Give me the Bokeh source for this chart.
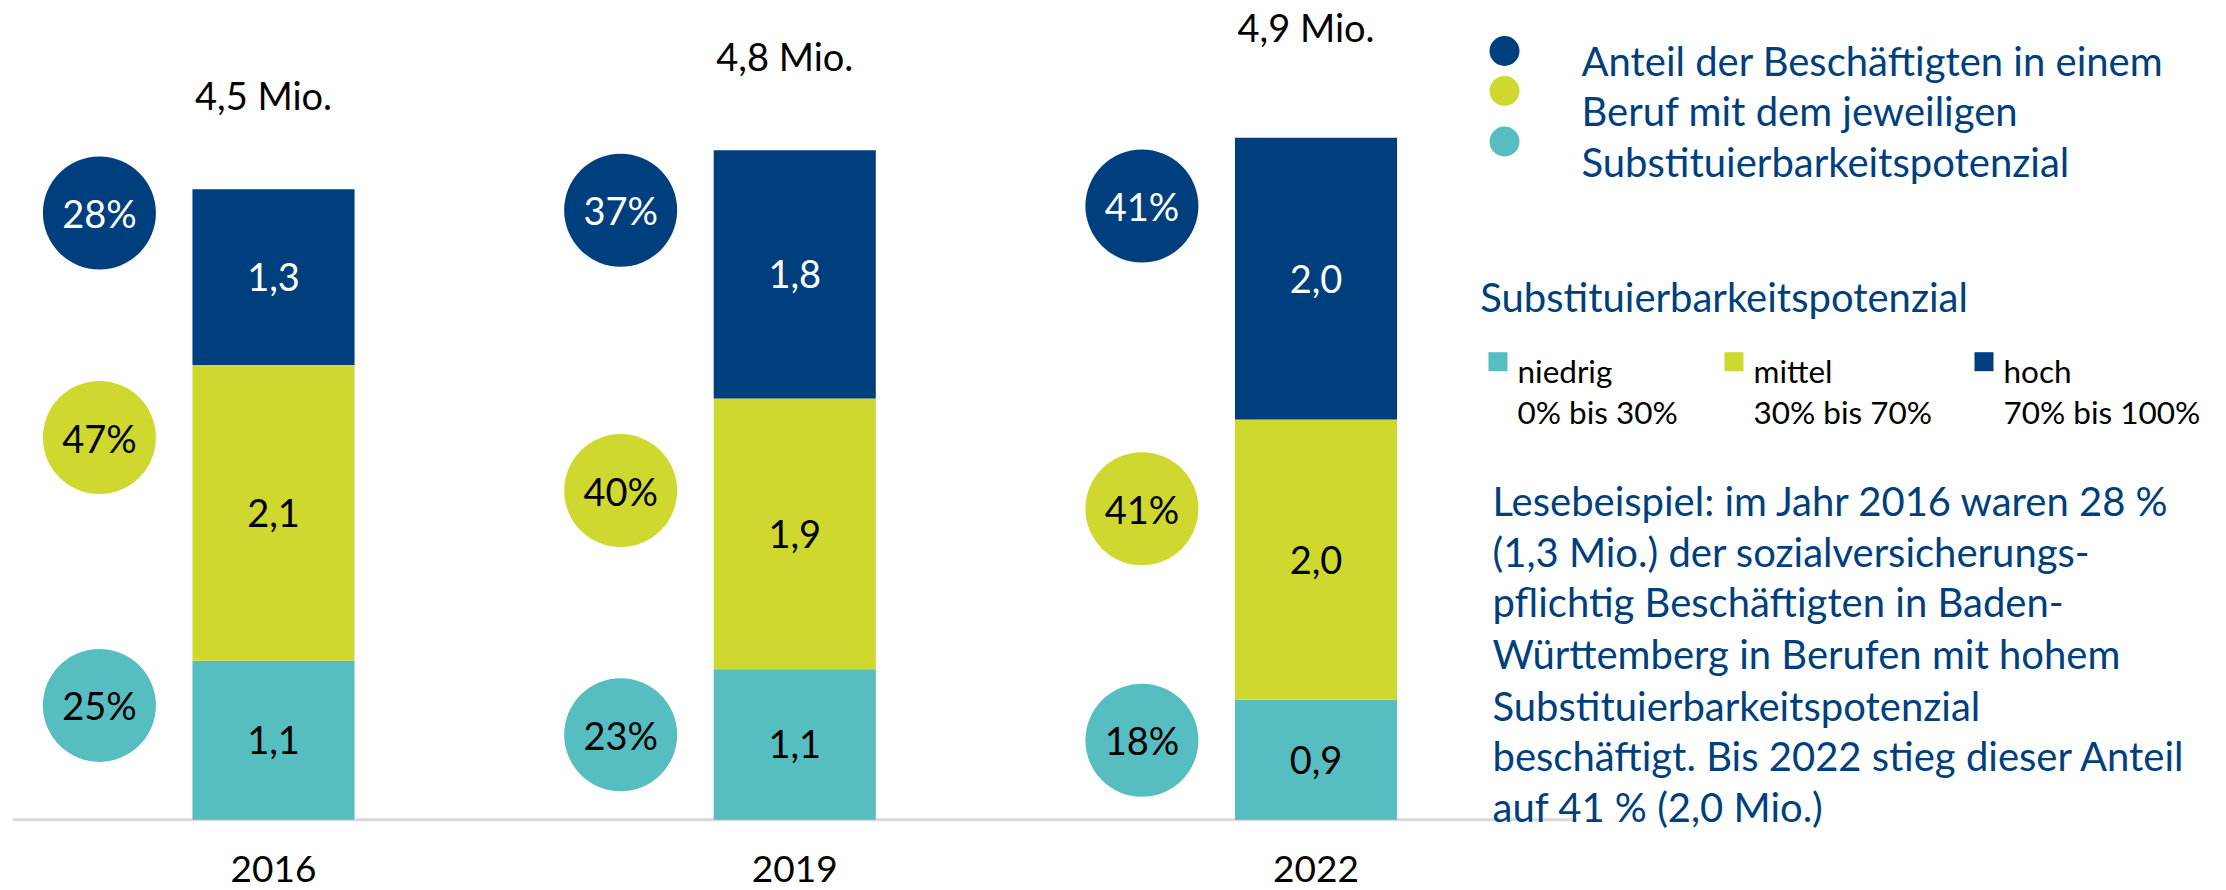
from bokeh.plotting import figure
from bokeh.models import ColumnDataSource, Range1d, Label
from bokeh.core.properties import value
from bokeh.embed import file_html
from bokeh.resources import INLINE

# ---------------- data ----------------
years = ["2016", "2019", "2022"]
niedrig = [1.14, 1.08, 0.86]   # Mio., low substitutability
mittel = [2.12, 1.94, 2.01]    # Mio., medium
hoch = [1.26, 1.78, 2.02]      # Mio., high
niedrig_lbl = ["1,1", "1,1", "0,9"]
mittel_lbl = ["2,1", "1,9", "2,0"]
hoch_lbl = ["1,3", "1,8", "2,0"]
total_lbl = ["4,5 Mio.", "4,8 Mio.", "4,9 Mio."]
pct_hoch = ["28%", "37%", "41%"]
pct_mittel = ["47%", "40%", "41%"]
pct_niedrig = ["25%", "23%", "18%"]

legend_lines = ["Anteil der Beschäftigten in einem",
                "Beruf mit dem jeweiligen",
                "Substituierbarkeitspotenzial"]
legend_title = "Substituierbarkeitspotenzial"
cat_names = ["niedrig", "mittel", "hoch"]
cat_ranges = ["0% bis 30%", "30% bis 70%", "70% bis 100%"]
note_lines = ["Lesebeispiel: im Jahr 2016 waren 28 %",
              "(1,3 Mio.) der sozialversicherungs-",
              "pflichtig Beschäftigten in Baden-",
              "Württemberg in Berufen mit hohem",
              "Substituierbarkeitspotenzial",
              "beschäftigt. Bis 2022 stieg dieser Anteil",
              "auf 41 % (2,0 Mio.)"]

# ---------------- layout / style ----------------
BLUE = "#003f7d"
YELLOW = "#cfd82e"
TEAL = "#56bdc0"
AXIS_GRAY = "#d9d9d9"
FONT_NAME = "Lato"
FONT = value(FONT_NAME)
FS = "40px"        # running text
FS_NUM = "38px"    # numbers in the chart
FS_YEAR = "37px"
FS_SMALL = "31.5px"

W, H = 2226, 890
PX_X = 521.25   # px per category step
PX_Y = 139.5    # px per Mio.
X0_PX = 273.0   # px of first bar centre (from left)
Y0_PX = 819.3   # px of baseline (from top)
BAR_W = 0.311
BUBBLE_DX = -0.334
BUBBLE_SIZE = 113
# bubble heights (data units), placed by hand in the original
bubble_y_hoch = [4.35, 4.37, 4.40]
bubble_y_mittel = [2.74, 2.36, 2.23]
bubble_y_niedrig = [0.82, 0.61, 0.57]
total_gap = [0.678, 0.673, 0.794]   # label centre above bar top
year_y = -0.355                      # year label centre below baseline


def dx(px):
    return (px - X0_PX) / PX_X


def dy(py_top):
    return (Y0_PX - py_top) / PX_Y


x = list(range(len(years)))
totals = [a + b + c for a, b, c in zip(niedrig, mittel, hoch)]
mid_n = [a / 2 for a in niedrig]
mid_m = [a + b / 2 for a, b in zip(niedrig, mittel)]
mid_h = [a + b + c / 2 for a, b, c in zip(niedrig, mittel, hoch)]
bx = [i + BUBBLE_DX for i in x]

src = ColumnDataSource(dict(
    x=x, years=years, niedrig=niedrig, mittel=mittel, hoch=hoch,
    niedrig_lbl=niedrig_lbl, mittel_lbl=mittel_lbl, hoch_lbl=hoch_lbl,
    mid_n=mid_n, mid_m=mid_m, mid_h=mid_h,
    total_lbl=total_lbl, total_y=[t + g for t, g in zip(totals, total_gap)],
    bx=bx, pct_hoch=pct_hoch, pct_mittel=pct_mittel, pct_niedrig=pct_niedrig,
    by_h=bubble_y_hoch, by_m=bubble_y_mittel, by_n=bubble_y_niedrig,
    year_y=[year_y] * len(years),
))

p = figure(width=W, height=H,
           x_range=Range1d(-X0_PX / PX_X, (W - X0_PX) / PX_X),
           y_range=Range1d(-(H - Y0_PX) / PX_Y, Y0_PX / PX_Y),
           x_axis_location=None, y_axis_location=None,
           output_backend="svg", toolbar_location=None, min_border=0)
p.grid.visible = False
p.outline_line_color = None
p.background_fill_color = "white"
p.border_fill_color = "white"

# baseline
p.line(x=[-0.5, len(years) - 0.5], y=[0, 0], line_color=AXIS_GRAY, line_width=3)

# stacked bars
p.vbar_stack(["niedrig", "mittel", "hoch"], x="x", width=BAR_W,
             color=[TEAL, YELLOW, BLUE], line_color=None, source=src)

txt = dict(text_font=FONT, text_font_size=FS_NUM, text_align="center",
           text_baseline="middle")
p.text(x="x", y="mid_n", text="niedrig_lbl", text_color="black", source=src, **txt)
p.text(x="x", y="mid_m", text="mittel_lbl", text_color="black", source=src, **txt)
p.text(x="x", y="mid_h", text="hoch_lbl", text_color="white", source=src, **txt)
p.text(x="x", y="total_y", text="total_lbl", text_color="black",
       x_offset=-10, source=src, **txt)
p.text(x="x", y="year_y", text="years", text_color="black", source=src,
       text_font=FONT, text_font_size=FS_YEAR, text_align="center",
       text_baseline="middle")

# share bubbles
p.scatter(x="bx", y="by_h", size=BUBBLE_SIZE, marker="circle",
          fill_color=BLUE, line_color=None, source=src)
p.scatter(x="bx", y="by_m", size=BUBBLE_SIZE, marker="circle",
          fill_color=YELLOW, line_color=None, source=src)
p.scatter(x="bx", y="by_n", size=BUBBLE_SIZE, marker="circle",
          fill_color=TEAL, line_color=None, source=src)
p.text(x="bx", y="by_h", text="pct_hoch", text_color="white", source=src, **txt)
p.text(x="bx", y="by_m", text="pct_mittel", text_color="black", source=src, **txt)
p.text(x="bx", y="by_n", text="pct_niedrig", text_color="black", source=src, **txt)

# ---------------- right-hand legend ----------------
dot_px = [(1504, 50.5, BLUE), (1504, 90.5, YELLOW), (1504, 141, TEAL)]
p.scatter(x=[dx(a) for a, _, _ in dot_px], y=[dy(b) for _, b, _ in dot_px],
          color=[c for _, _, c in dot_px], size=30, marker="circle", line_color=None)


def add_label(xpx, ypx_top, text, size, color):
    p.add_layout(Label(x=xpx, y=H - ypx_top, x_units="screen", y_units="screen",
                       text=text, text_font=FONT_NAME, text_font_size=size,
                       text_color=color, text_baseline="alphabetic"))


for line, base in zip(legend_lines, [60, 110, 161.7]):
    add_label(1581, base, line, FS, BLUE)

add_label(1479.7, 296.7, legend_title, FS, BLUE)

sq_x = [1497.5, 1733.5, 1983.5]
p.scatter(x=[dx(a) for a in sq_x], y=[dy(361.2)] * 3, color=[TEAL, YELLOW, BLUE],
          size=19, marker="square", line_color=None)
for sx, name, rng in zip(sq_x, cat_names, cat_ranges):
    add_label(sx + 19.5, 370, name, FS_SMALL, "black")
    add_label(sx + 19.5, 411.7, rng, FS_SMALL, "black")

for line, base in zip(note_lines, [500.7, 551.7, 601.7, 653, 705, 755, 806.7]):
    add_label(1492, base, line, FS, BLUE)

open("out.html", "w").write(file_html(p, INLINE))
